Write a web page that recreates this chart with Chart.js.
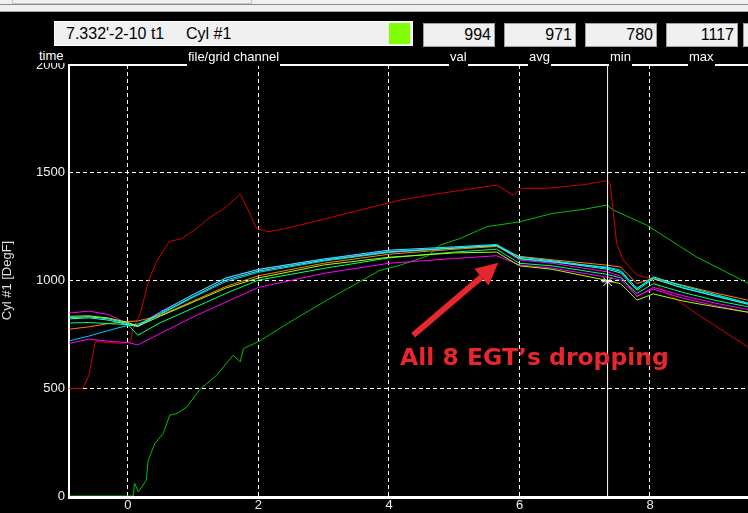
<!DOCTYPE html>
<html>
<head>
<meta charset="utf-8">
<script src="https://cdn.jsdelivr.net/npm/chart.js@4.4.1/dist/chart.umd.min.js"></script>
<style>
  html, body { margin: 0; padding: 0; background: #000; }
  body { position: relative; width: 748px; height: 513px; overflow: hidden; font-family: "Liberation Sans", Arial, sans-serif; }
  #chart { position: absolute; left: 0; top: 0; }
  #topbar { position: absolute; left: 0; top: 0; width: 748px; height: 11px; background: #f0f0f0; border-bottom: 1px solid #a8a8a8; z-index: 2; }
  #topbar .rule { position: absolute; left: 0; top: 4px; width: 748px; height: 1px; background: #8c8c8c; }
  #topbar .tab { position: absolute; left: 12px; top: 0; width: 238px; height: 3px; border: 1px solid #c8c8c8; border-top: 0; }
  #cover { position: absolute; left: 0; top: 12px; width: 748px; height: 51px; background: #000; z-index: 2; }
  .box { position: absolute; box-sizing: border-box; background: #f0f0f0; color: #000; font-size: 16px; z-index: 3; white-space: nowrap; }
  #mainbox { left: 54px; top: 21px; width: 359px; height: 25px; border: 1px solid #fff; line-height: 23px; }
  #mainbox span { position: absolute; top: 0; }
  #swatch { position: absolute; left: 334px; top: 1px; width: 21px; height: 21px; background: #80ff00; }
  .num { top: 23px; width: 72px; height: 24px; border: 1px solid #a0a0a0; line-height: 22px; text-align: right; padding-right: 3px; }
  .lab { position: absolute; top: 48px; height: 18px; line-height: 18px; color: #fff; background: #000; font-size: 13px; padding: 0 1px; z-index: 3; }
  #note { position: absolute; left: 400px; top: 346px; font-family: "DejaVu Sans", Verdana, sans-serif; font-weight: bold; font-size: 23.5px; line-height: 23.5px; color: #e8262d; white-space: nowrap; z-index: 3; }
</style>
</head>
<body>
<div id="topbar"><div class="tab"></div><div class="rule"></div></div>
<div id="cover"></div>
<div class="box" id="mainbox"><span style="left:11px">7.332'-2-10 t1</span><span style="left:131px">Cyl #1</span><div id="swatch"></div></div>
<div class="box num" id="valBox" style="left:423px">994</div>
<div class="box num" id="avgBox" style="left:504px">971</div>
<div class="box num" id="minBox" style="left:585px">780</div>
<div class="box num" id="maxBox" style="left:666px">1117</div>
<div class="box num" style="left:743px"></div>
<div class="lab" style="left:38px; height:14px; line-height:16px">time</div>
<div class="lab" style="left:187px">file/grid channel</div>
<div class="lab" style="left:449px">val</div>
<div class="lab" style="left:528px">avg</div>
<div class="lab" style="left:609px">min</div>
<div class="lab" style="left:688px">max</div>
<div id="note">All 8 EGT’s dropping</div>
<canvas id="chart" width="748" height="513"></canvas>
<script>
/* DATA */

const xTicks = [0, 2, 4, 6, 8];
const yTicks = [0, 500, 1000, 1500, 2000];
const xMin = -0.904;
const xMax = 9.502;

const egtTime = [-0.9, -0.6, -0.3, 0.0, 0.15, 0.5, 1.0, 1.5, 2.0, 3.0, 4.0, 5.0, 5.65, 6.0, 6.5, 7.35, 7.55, 7.8, 8.05, 8.5, 9.0, 9.6];

const egtLime    = [834, 836, 826, 805, 788, 835, 900, 965, 1012, 1072, 1108, 1128, 1132, 1068, 1052, 1000, 985, 909, 938, 905, 878, 848];
const egtMagenta = [849, 858, 842, 800, 792, 856, 935, 1010, 1050, 1098, 1136, 1152, 1162, 1095, 1080, 1040, 1020, 925, 968, 930, 895, 860];
const egtCyan    = [827, 832, 822, 800, 790, 852, 935, 1012, 1052, 1100, 1141, 1156, 1167, 1108, 1092, 1058, 1042, 963, 1017, 975, 935, 888];
const egtAqua    = [822, 827, 816, 795, 786, 846, 926, 1002, 1044, 1094, 1133, 1150, 1163, 1102, 1088, 1052, 1035, 955, 1008, 965, 927, 882];
const egtSpring  = [803, 805, 800, 795, 746, 805, 872, 940, 1002, 1056, 1105, 1132, 1145, 1080, 1068, 1028, 1012, 940, 985, 945, 908, 872];
const egtOrange  = [774, 785, 800, 810, 812, 838, 905, 972, 1022, 1080, 1122, 1145, 1158, 1112, 1096, 1071, 1062, 986, 1010, 978, 942, 902];
const egtSky     = [720, 742, 768, 792, 798, 842, 922, 995, 1038, 1090, 1130, 1150, 1160, 1100, 1085, 1062, 1048, 962, 1012, 968, 930, 885];
const egtPink    = [708, 728, 718, 712, 701, 755, 831, 900, 968, 1033, 1080, 1102, 1115, 1072, 1058, 1015, 1002, 928, 960, 918, 883, 847];

const redTime = [-0.9, -0.69, -0.6, -0.5, -0.3, -0.1, 0.04, 0.07, 0.19, 0.32, 0.45, 0.63, 0.83, 1.09, 1.2, 1.51, 1.72, 1.82, 1.97, 2.15, 2.43, 3.05, 3.56, 4.17, 4.78, 5.65, 5.9, 6.03, 6.42, 7.0, 7.33, 7.39, 7.44, 7.49, 7.59, 7.8, 8.0, 8.2, 8.71, 9.6];
const redVals = [499, 499, 560, 718, 712, 708, 715, 770, 848, 1002, 1095, 1180, 1195, 1250, 1280, 1342, 1400, 1342, 1242, 1226, 1242, 1288, 1327, 1373, 1404, 1443, 1396, 1428, 1428, 1445, 1463, 1451, 1311, 1172, 1095, 1025, 1010, 955, 847, 672];

const greenTime = [-0.9, 0.08, 0.1, 0.16, 0.28, 0.31, 0.41, 0.54, 0.64, 0.75, 0.9, 1.1, 1.36, 1.61, 1.72, 1.77, 2.02, 2.53, 3.05, 3.86, 4.17, 4.6, 4.78, 5.09, 5.5, 6.0, 6.5, 7.0, 7.34, 7.44, 7.95, 8.71, 9.6];
const greenVals = [0, 0, 60, 19, 73, 166, 243, 290, 375, 383, 413, 494, 561, 653, 622, 684, 720, 816, 909, 1047, 1071, 1115, 1164, 1195, 1250, 1272, 1311, 1331, 1350, 1327, 1257, 1110, 972];

const cursorTime = 7.35;
const cursorValue = 994;

/* annotation arrow, in chart units */
const arrowFrom = [4.37, 746];
const arrowTo = [5.675, 1082];

/* FONTS */

function hasFont(name){
  const c = document.createElement("canvas").getContext("2d");
  c.font = "20px monospace";
  const a = c.measureText("0123456789abcdef").width;
  c.font = '20px "' + name + '", monospace';
  const b = c.measureText("0123456789abcdef").width;
  return a !== b;
}

const axisFont = hasFont("Liberation Sans Narrow")
  ? { family: '"Liberation Sans Narrow"', size: 15 }
  : { family: '"Liberation Sans"', size: 13 };

/* HELPERS */

function points(times, vals){
  return times.map((t, i) => ({ x: t, y: vals[i] }));
}

function series(label, times, vals, color){
  return {
    label,
    data: points(times, vals),
    borderColor: color,
    borderWidth: 1,
    pointRadius: 0,
    fill: false,
    tension: 0
  };
}

/* PLUGINS */

const framePlugin = {
  id: "frame",
  beforeDatasetsDraw(chart){
    const { ctx, chartArea: a } = chart;
    ctx.save();
    ctx.fillStyle = "#fff";
    ctx.fillRect(a.left - 1, a.top - 1, 2, a.bottom - a.top + 4);
    ctx.fillRect(a.left - 1, a.top - 1, a.right - a.left + 1, 2);
    ctx.fillRect(a.left - 1, a.bottom, a.right - a.left + 1, 3);
    ctx.restore();
  }
};

const arrowPlugin = {
  id: "arrow",
  afterDatasetsDraw(chart){
    const { ctx, scales: { x, y } } = chart;
    const x0 = x.getPixelForValue(arrowFrom[0]);
    const y0 = y.getPixelForValue(arrowFrom[1]);
    const x1 = x.getPixelForValue(arrowTo[0]);
    const y1 = y.getPixelForValue(arrowTo[1]);
    const ang = Math.atan2(y1 - y0, x1 - x0);
    const head = 22, half = 11;
    const bx = x1 - head * Math.cos(ang);
    const by = y1 - head * Math.sin(ang);
    ctx.save();
    ctx.strokeStyle = "#e8262d";
    ctx.fillStyle = "#e8262d";
    ctx.lineWidth = 6;
    ctx.beginPath();
    ctx.moveTo(x0, y0);
    ctx.lineTo(bx, by);
    ctx.stroke();
    ctx.beginPath();
    ctx.moveTo(x1, y1);
    ctx.lineTo(bx + half * Math.sin(ang), by - half * Math.cos(ang));
    ctx.lineTo(bx - half * Math.sin(ang), by + half * Math.cos(ang));
    ctx.closePath();
    ctx.fill();
    ctx.restore();
  }
};

/* CHART */

new Chart(document.getElementById("chart"), {

  type: "line",

  data: {
    datasets: [
      {
        label: "cursor mark",
        data: [{ x: cursorTime, y: cursorValue }],
        showLine: false,
        pointStyle: "star",
        pointRadius: 6,
        borderColor: "#fff",
        borderWidth: 1
      },
      {
        label: "cursor",
        data: [{ x: cursorTime, y: yTicks[0] }, { x: cursorTime, y: yTicks[yTicks.length - 1] }],
        borderColor: "#fff",
        borderWidth: 1,
        pointRadius: 0
      },
      series("Cyl #1", egtTime, egtLime, "#aaff00"),
      series("Cyl #2", egtTime, egtPink, "#ff00ff"),
      series("Cyl #3", egtTime, egtCyan, "#00ffff"),
      series("Cyl #4", egtTime, egtAqua, "#30ffc8"),
      series("Cyl #5", egtTime, egtSpring, "#00ff80"),
      series("Cyl #6", egtTime, egtOrange, "#ff8000"),
      series("Cyl #7", egtTime, egtSky, "#00c8ff"),
      series("Cyl #8", egtTime, egtMagenta, "#ff00ff"),
      series("red", redTime, redVals, "#d40000"),
      series("green", greenTime, greenVals, "#00c000")
    ]
  },

  options: {
    responsive: false,
    animation: false,
    events: [],
    layout: { autoPadding: false, padding: { top: 65, left: 0, right: 0, bottom: 0 } },
    plugins: {
      legend: { display: false },
      tooltip: { enabled: false }
    },
    scales: {
      x: {
        type: "linear",
        min: xMin,
        max: xMax,
        afterBuildTicks: s => { s.ticks = xTicks.map(v => ({ value: v })); },
        afterFit: s => { s.height = 17; s.paddingLeft = 0; s.paddingRight = 0; },
        ticks: {
          color: "#f0f0f0",
          font: axisFont,
          padding: 2,
          maxRotation: 0,
          autoSkip: false,
          callback: v => String(v)
        },
        grid: { color: "#fff", lineWidth: 1, drawTicks: false },
        border: { display: false, dash: [4, 3] }
      },
      y: {
        type: "linear",
        min: yTicks[0],
        max: yTicks[yTicks.length - 1],
        afterBuildTicks: s => { s.ticks = yTicks.map(v => ({ value: v })); },
        afterFit: s => { s.width = 69; s.paddingTop = 0; s.paddingBottom = 0; },
        ticks: {
          color: "#f0f0f0",
          font: axisFont,
          padding: 4,
          autoSkip: false,
          callback: v => String(v)
        },
        title: {
          display: true,
          text: "Cyl #1 [DegF]",
          color: "#e0e0e0",
          font: axisFont,
          padding: 0
        },
        grid: { color: "#fff", lineWidth: 1, drawTicks: false },
        border: { display: false, dash: [4, 3] }
      }
    }
  },

  plugins: [framePlugin, arrowPlugin]

});
</script>
</body>
</html>
